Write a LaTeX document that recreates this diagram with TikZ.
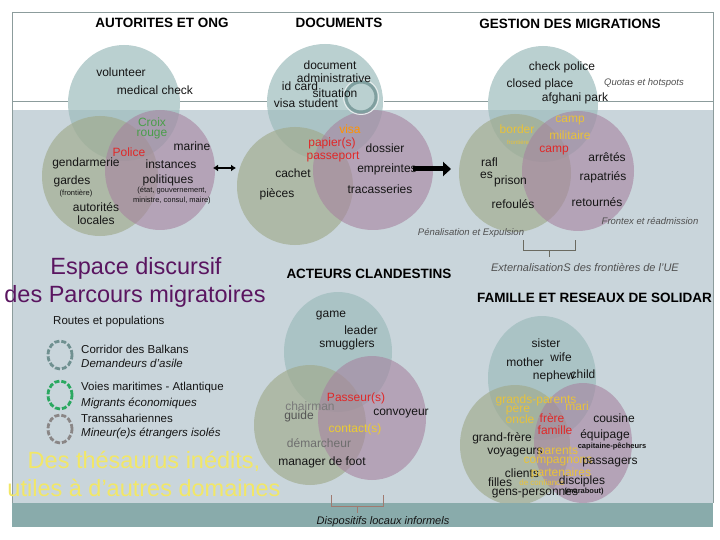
\documentclass[tikz,border=0pt]{standalone}
\usepackage{fontspec}
\setmainfont{Liberation Sans}
\usetikzlibrary{arrows.meta}
\definecolor{bgc}{HTML}{C9D5DB}
\definecolor{stripc}{HTML}{89ABAB}
\definecolor{framec}{HTML}{8C9C9C}
\definecolor{ctop}{HTML}{9DBCBC}
\definecolor{cgreen}{HTML}{A0AA8C}
\definecolor{cmauve}{HTML}{A6839F}
\definecolor{txt}{HTML}{151515}
\definecolor{redt}{HTML}{E02828}
\definecolor{crgreen}{HTML}{4A9E4A}
\definecolor{yelt}{HTML}{E8C23A}
\definecolor{yelbig}{HTML}{F2E766}
\definecolor{purpbig}{HTML}{5A1560}
\definecolor{notegray}{HTML}{505050}
\definecolor{ringc}{HTML}{7F9F9F}
\definecolor{legA}{HTML}{6F9090}
\definecolor{legB}{HTML}{2AA860}
\definecolor{legC}{HTML}{8A8686}
\definecolor{braceA}{HTML}{6A6A60}
\definecolor{braceB}{HTML}{A07A70}
\definecolor{grayA}{HTML}{7A7A7A}
\definecolor{grayB}{HTML}{555555}
\begin{document}
\begin{tikzpicture}[x=1pt,y=-1pt,
  lbl/.style={font=\fontsize{12}{13}\selectfont, inner sep=0pt, text=txt},
  ylbl/.style={lbl, text=yelt},
  rlbl/.style={lbl, text=redt},
  hdr/.style={font=\bfseries\fontsize{13.5}{15}\selectfont, inner sep=0pt, text=black},
  note/.style={font=\itshape\fontsize{9.5}{11}\selectfont, inner sep=0pt, text=notegray},
  tinyl/.style={font=\fontsize{7.5}{8}\selectfont, inner sep=0pt, text=txt},
  tinyb/.style={font=\bfseries\fontsize{7.5}{8}\selectfont, inner sep=0pt, text=txt},
  legt/.style={font=\fontsize{11.5}{12}\selectfont, inner sep=0pt, anchor=west, text=txt},
  legi/.style={legt, font=\itshape\fontsize{11.5}{12}\selectfont},
  cT/.style={fill=ctop, fill opacity=0.7},
  cG/.style={fill=cgreen, fill opacity=0.65},
  cM/.style={fill=cmauve, fill opacity=0.6},
  legring/.style={line width=2.8pt, dash pattern=on 5pt off 2pt},
  bigp/.style={font=\fontsize{23.5}{25}\selectfont, inner sep=0pt, text=purpbig},
  bigy/.style={font=\fontsize{23.5}{25}\selectfont, inner sep=0pt, text=yelbig}
]
\useasboundingbox (0,0) rectangle (720,540);
% background
\fill[bgc] (12,110) rectangle (713,503);
\draw[framec, line width=0.8pt] (12,12) -- (713,12) -- (713,503);
\draw[framec, line width=0.8pt] (12,12) -- (12,527);
\draw[framec, line width=0.8pt] (12,101) -- (68,101);
\draw[framec, line width=0.8pt] (180,101) -- (267,101);
\draw[framec, line width=0.8pt] (384,101) -- (488,101);
\draw[framec, line width=0.8pt] (598,101) -- (713,101);

% Venn 1
\fill[cT] (124,103) ellipse [x radius=56pt, y radius=58pt];
\fill[cG] (100,176) ellipse [x radius=58pt, y radius=60pt];
\fill[cM] (160,170) ellipse [x radius=55pt, y radius=60pt];
% Venn 2
\fill[cT] (325,102) ellipse [x radius=58pt, y radius=58pt];
\fill[cG] (295,186) ellipse [x radius=58pt, y radius=59pt];
\fill[cM] (373,170) ellipse [x radius=60pt, y radius=60pt];
% Venn 3
\fill[cT] (543,104) ellipse [x radius=55pt, y radius=58pt];
\fill[cG] (515,173) ellipse [x radius=56pt, y radius=59pt];
\fill[cM] (578,171) ellipse [x radius=56pt, y radius=60pt];
% Venn 4
\fill[cT] (338,352) ellipse [x radius=54pt, y radius=60pt];
\fill[cG] (310,425) ellipse [x radius=56pt, y radius=60pt];
\fill[cM] (372,418) ellipse [x radius=54pt, y radius=62pt];
% Venn 5
\fill[cT] (542,378) ellipse [x radius=54pt, y radius=62pt];
\fill[cG] (515,445) ellipse [x radius=55pt, y radius=60pt];
\fill[cM] (583,443) ellipse [x radius=49pt, y radius=60pt];

% bottom strip
\fill[stripc] (12,503) rectangle (713,527);

% ring
\draw[white!80!ringc, line width=1pt] (361,97) circle [radius=17.5pt];
\draw[ringc, line width=3pt] (361,97) circle [radius=15pt];

% headers
\node[hdr] (h1) at (162,23) {AUTORITES ET ONG};
\node[hdr] (h2) at (339,23) {DOCUMENTS};
\node[hdr] (h3) at (570,24) {GESTION DES MIGRATIONS};
\node[hdr] (h4) at (369,274) {ACTEURS CLANDESTINS};
\node[hdr, anchor=west] (h5) at (477,298) {FAMILLE ET RESEAUX DE SOLIDAR};

% Venn 1 texts
\node[lbl] (vol) at (121,72) {volunteer};
\node[lbl] (med) at (155,90) {medical check};
\node[lbl, text=crgreen] (croix) at (152,122) {Croix};
\node[lbl, text=crgreen] (rouge) at (152,135) {rouge};
\node[rlbl] (police) at (129,152) {Police};
\node[lbl] (marine) at (192,146) {marine};
\node[lbl] (gend) at (86,163) {gendarmerie};
\node[lbl] (inst) at (171,164) {instances};
\node[lbl] (polit) at (168,180) {politiques};
\node[lbl] (gardes) at (72,181) {gardes};
\node[tinyl] (front) at (76,194) {(frontière)};
\node[tinyl] (etat) at (172,191) {(état, gouvernement,};
\node[tinyl] (minis) at (172,201) {ministre, consul, maire)};
\node[lbl] (autor) at (96,207) {autorités};
\node[lbl] (locales) at (96,220) {locales};

% double arrow
\coordinate (dl) at (213,168);
\coordinate (dr) at (236,168);
\draw[line width=2pt, {Latex[length=5pt,width=7pt]}-{Latex[length=5pt,width=7pt]}] (dl) -- (dr);

% Venn 2 texts
\node[lbl] (doc) at (330,65) {document};
\node[lbl] (admin) at (334,78) {administrative};
\node[lbl] (idc) at (300,86) {id card};
\node[lbl] (sit) at (335,93) {situation};
\node[lbl] (vstud) at (306,103) {visa student};
\node[lbl, text=orange!85!yellow] (visa) at (350,129) {visa};
\node[rlbl] (pap) at (332,143) {papier(s)};
\node[rlbl] (pass) at (333,157) {passeport};
\node[lbl] (dos) at (385,148) {dossier};
\node[lbl] (empr) at (387,169) {empreintes};
\node[lbl] (cach) at (293,173) {cachet};
\node[lbl] (pie) at (277,194) {pièces};
\node[lbl] (trac) at (380,189) {tracasseries};

% thick arrow
\coordinate (as) at (413,169);
\coordinate (ae) at (451,169);
\draw[line width=5pt, -{Triangle[length=8pt,width=14pt]}] (as) -- (ae);

% Venn 3 texts
\node[lbl] (chk) at (562,67) {check police};
\node[lbl] (clp) at (540,84) {closed place};
\node[note] (quot) at (644,83) {Quotas et hotspots};
\node[lbl] (afg) at (575,98) {afghani park};
\node[ylbl] (bord) at (517,129) {border};
\node[font=\fontsize{6}{7}\selectfont, inner sep=0pt, text=yelt] (bordf) at (518,142) {frontière};
\node[ylbl] (campy) at (570,121) {camp};
\node[ylbl] (milit) at (570,135) {militaire};
\node[rlbl] (campr) at (554,151) {camp};
\node[lbl] (arr) at (607,157) {arrêtés};
\node[lbl, anchor=west] (rafl) at (481,162) {rafl};
\node[lbl, anchor=west] (es) at (480,175) {es};
\node[lbl, anchor=west] (pris) at (494,181) {prison};
\node[lbl] (rapa) at (603,177) {rapatriés};
\node[lbl] (refo) at (513,204) {refoulés};
\node[lbl] (reto) at (597,202) {retournés};
\node[note] (frx) at (650,221) {Frontex et réadmission};
\node[note] (pen) at (471,233) {Pénalisation et Expulsion};
\node[note, font=\itshape\fontsize{11}{12}\selectfont] (ext) at (585,268) {ExternalisationS des frontières de l'UE};
\draw[braceA, line width=0.9pt] (523,240) -- (523,250) -- (575,250) -- (575,240);
\coordinate (b3a) at (549,250);
\coordinate (b3b) at (549,257);
\draw[braceA, line width=0.9pt] (b3a) -- (b3b);

% Left panel
\node[bigp] (esp1) at (136,268) {Espace discursif};
\node[bigp] (esp2) at (135,296) {des Parcours migratoires};
\node[legt] (routes) at (53,322) {Routes et populations};
\draw[legA, legring] (60,355) ellipse [x radius=12pt, y radius=14pt];
\draw[legB, legring] (60,395) ellipse [x radius=12pt, y radius=14pt];
\draw[legC, legring] (60,429) ellipse [x radius=12pt, y radius=14pt];
\node[legt] (l1a) at (81,349) {Corridor des Balkans};
\node[legi] (l1b) at (81,363) {Demandeurs d'asile};
\node[legt] (l2a) at (81,388) {Voies maritimes - Atlantique};
\node[legi] (l2b) at (81,403) {Migrants économiques};
\node[legt] (l3a) at (81,418) {Transsahariennes};
\node[legi] (l3b) at (81,433) {Mineur(e)s étrangers isolés};
\node[bigy] (th1) at (144,461) {Des thésaurus inédits,};
\node[bigy] (th2) at (144,488) {utiles à d'autres domaines};

% Venn 4 texts
\node[lbl] (game) at (331,316) {game};
\node[lbl] (lead) at (361,330) {leader};
\node[lbl] (smug) at (347,344) {smugglers};
\node[rlbl] (passr) at (356,398) {Passeur(s)};
\node[lbl, text=grayA] (chair) at (310,406) {chairman};
\node[lbl, text=grayB] (guide) at (299,416) {guide};
\node[lbl] (conv) at (401,414) {convoyeur};
\node[ylbl, text=yelt!85!yellow] (cont) at (355,429) {contact(s)};
\node[lbl, text=grayA!90!black] (dem) at (319,443) {démarcheur};
\node[lbl] (mana) at (322,462) {manager de foot};
\node[lbl, font=\itshape\fontsize{11}{12}\selectfont] (disp) at (383,522) {Dispositifs locaux informels};
\draw[braceB, line width=0.9pt] (331,495) -- (331,506) -- (383,506) -- (383,495);
\coordinate (b4a) at (357,506);
\coordinate (b4b) at (357,513);
\draw[braceB, line width=0.9pt] (b4a) -- (b4b);

% Venn 5 texts
\node[lbl] (sis) at (546,343) {sister};
\node[lbl] (wife) at (561,357) {wife};
\node[lbl] (moth) at (525,362) {mother};
\node[lbl] (neph) at (554,376) {nephew};
\node[lbl] (chil) at (583,374) {child};
\node[ylbl] (gpar) at (536,400) {grands-parents};
\node[ylbl] (mari) at (577,406) {mari};
\node[ylbl] (pere) at (518,409) {père};
\node[ylbl] (oncl) at (520,419) {oncle};
\node[rlbl] (frer) at (552,418) {frère};
\node[rlbl] (fam) at (555,430) {famille};
\node[lbl] (cous) at (614,418) {cousine};
\node[lbl] (equi) at (605,435) {équipage};
\node[tinyb] (capi) at (612,446) {capitaine-pêcheurs};
\node[lbl] (gfr) at (502,438) {grand-frère};
\node[lbl] (voy) at (515,453) {voyageurs};
\node[ylbl] (pare) at (558,452) {parents};
\node[ylbl] (comp) at (558,462) {compagnons};
\node[lbl] (pasg) at (610,463) {passagers};
\node[lbl] (cli) at (522,473) {clients};
\node[ylbl] (part) at (561,473) {partenaires};
\node[lbl] (fil) at (500,482) {filles};
\node[ylbl, font=\fontsize{8}{9}\selectfont] (conf) at (542,483) {de confiance};
\node[lbl] (disc) at (582,481) {disciples};
\node[lbl] (gens) at (535,494) {gens-personnes};
\node[tinyb] (mara) at (584,492) {(marabout)};
\end{tikzpicture}
\end{document}
